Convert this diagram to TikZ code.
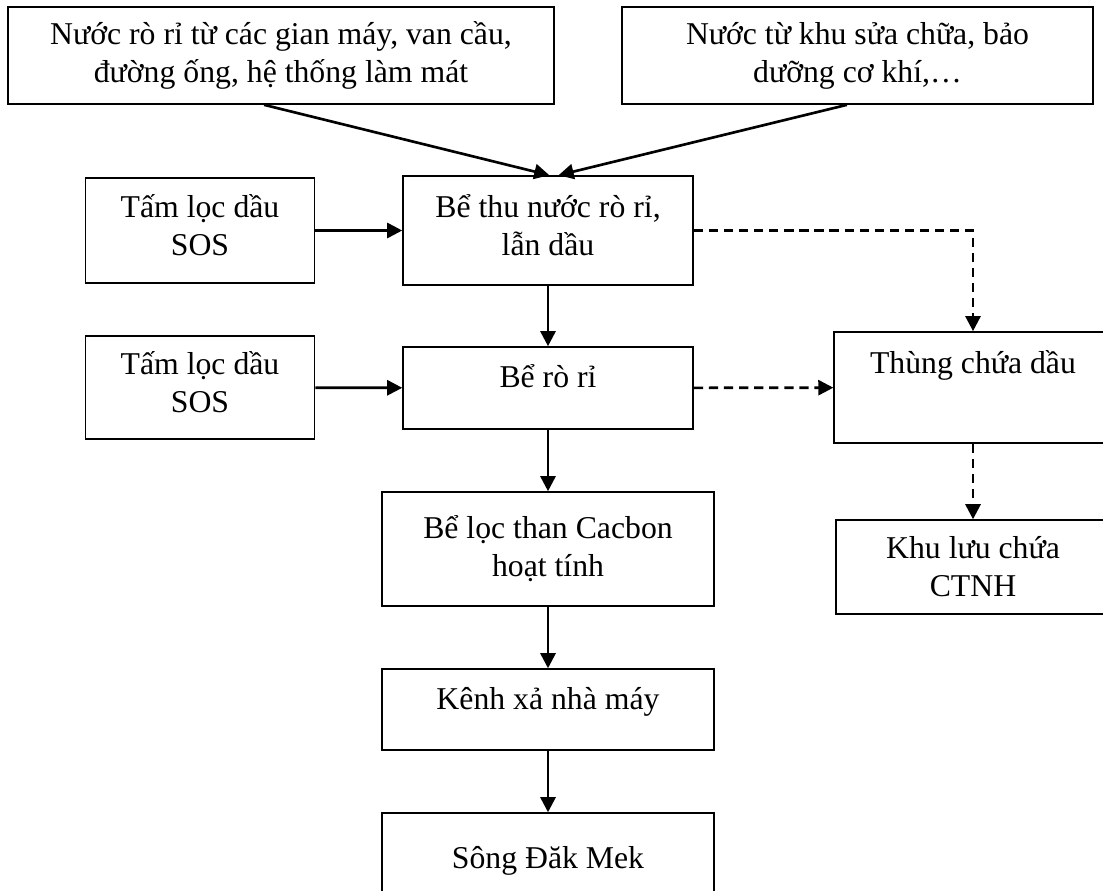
\documentclass[tikz,border=0pt]{standalone}
\usepackage{fontspec}
\setmainfont{Liberation Serif}
\usetikzlibrary{positioning,calc,arrows.meta}
\tikzset{
  bx/.style={rectangle,draw=black,line width=0.6pt,align=center,inner sep=2pt,font=\fontsize{12}{14.3}\selectfont},
  fl/.style={-{Triangle[length=5.7pt,width=5.7pt]},line width=1pt},
  dfl/.style={fl,dash pattern=on 3.5pt off 2.2pt},
}

\begin{document}
\begin{tikzpicture}[x=0.378pt,y=-0.378pt]
  \clip (0,0) rectangle (1103,890);
  % sources
  \node[bx,minimum width=206.4pt,minimum height=36.7pt] (srcL) at (281,55.5)
    {Nước rò rỉ từ các gian máy, van cầu,\\ đường ống, hệ thống làm mát};
  \node[bx,minimum width=178pt,minimum height=36.7pt] (srcR) at (857.5,55.5)
    {Nước từ khu sửa chữa, bảo\\ dưỡng cơ khí,…};
  % main line
  \node[bx,minimum width=109.6pt,minimum height=41.2pt,text depth=4pt] (beThu) at (548,230.5) {Bể thu nước rò rỉ,\\ lẫn dầu};
  \node[bx,minimum width=109.6pt,minimum height=31pt,text depth=9pt] (beRoRi) at (548,388) {Bể rò rỉ};
  \node[bx,minimum width=125.5pt,minimum height=43.1pt] (beLoc) at (548,549) {Bể lọc than Cacbon\\ hoạt tính};
  \node[bx,minimum width=125.5pt,minimum height=30.6pt,text depth=8pt] (kenh) at (548,709.5) {Kênh xả nhà máy};
  \node[bx,minimum width=125.5pt,minimum height=30.6pt,text height=14pt] (song) at (548,853.5) {Sông Đăk Mek};
  % oil filters
  \node[bx,minimum width=86.6pt,minimum height=39.5pt,text depth=4pt] (sosA) at (200,230.5) {Tấm lọc dầu\\ SOS};
  \node[bx,minimum width=86.6pt,minimum height=38.9pt,text depth=4pt] (sosB) at (200,387.5) {Tấm lọc dầu\\ SOS};
  % oil side
  \node[bx,minimum width=105pt,minimum height=42pt,text depth=19.6pt] (thung) at (973,387.5) {Thùng chứa dầu};
  \node[bx,minimum width=103.6pt,minimum height=35.5pt] (ctnh) at (973,567) {Khu lưu chứa\\ CTNH};

  \draw[fl] ([xshift=-6.4pt]srcL.south) -- ([xshift=0.5pt]beThu.north);
  \draw[fl] ([xshift=-4pt]srcR.south) -- ([xshift=4pt]beThu.north);
  \draw[fl] (sosA) -- (beThu);
  \draw[fl] (sosB) -- (beRoRi);
  \foreach \a/\b in {beThu/beRoRi,beRoRi/beLoc,beLoc/kenh,kenh/song}
    \draw[fl] (\a) -- (\b);
  \draw[dfl] (beThu.east) -| (thung.north);
  \draw[dfl] (beRoRi) -- (thung);
  \draw[dfl] (thung) -- (ctnh);
\end{tikzpicture}
\end{document}
